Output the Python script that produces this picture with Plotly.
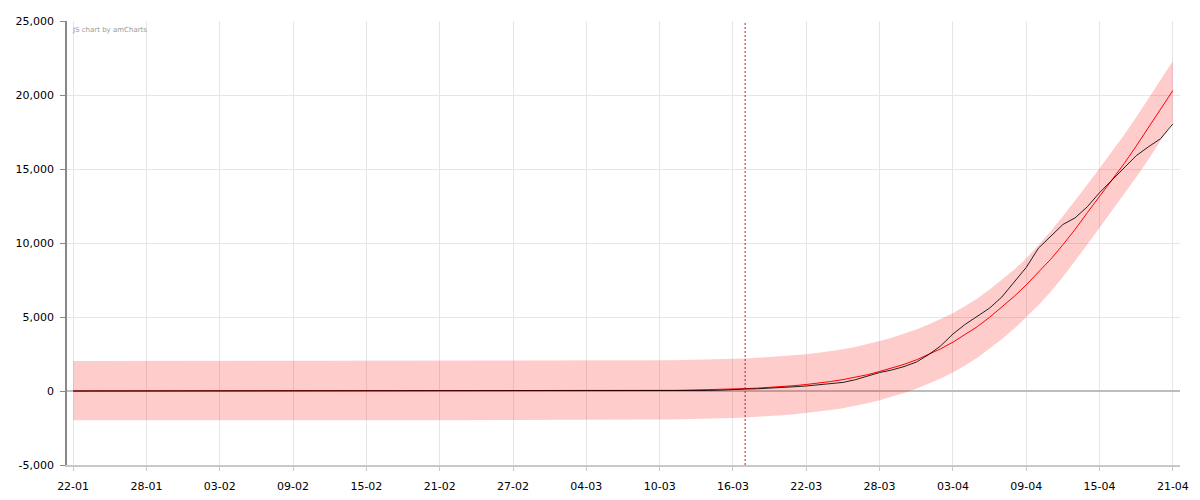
import pandas as pd
import plotly.graph_objects as go

# daily dates, 22-01 to 21-04
dates = pd.date_range("2020-01-22", "2020-04-21", freq="D")

# observed cumulative count (black line)
actual = [0, 0, 0, 0, 0, 0, 0, 0, 0, 0,                       # 22-01 .. 31-01
          0, 0, 0, 0, 0, 0, 0, 0, 0, 0, 0, 0, 0, 0, 0,         # 01-02 .. 15-02
          0, 0, 0, 0, 0, 0, 0, 0, 0, 0, 0, 0, 0, 0,            # 16-02 .. 29-02
          0, 0, 0, 0, 1, 2, 2, 3, 4, 6, 8, 10, 21, 35, 56, 70,
          130, 150, 180, 235, 285, 340, 420, 480, 580, 760, 1000,
          1250, 1420, 1650, 1950,                             # .. 31-03
          2450, 3050, 3850, 4500, 5050, 5600, 6350, 7350, 8350,
          9650, 10450, 11250, 11700, 12450, 13400, 14250, 15050,
          15900, 16500, 17050, 18050]                          # .. 21-04

# model curve (red line)
model = [0, 0, 0, 0, 0, 0, 0, 0, 0, 0,
         0, 0, 0, 0, 0, 0, 0, 0, 0, 0, 1, 1, 1, 1, 1,
         1, 1, 1, 1, 1, 2, 2, 2, 2, 2, 3, 3, 3, 3,
         4, 5, 7, 9, 11, 14, 18, 22, 28, 35, 44, 55, 68, 85, 105, 130,
         160, 195, 240, 295, 360, 440, 530, 640, 770, 920, 1100,
         1320, 1550, 1800, 2100,
         2450, 2850, 3300, 3800, 4350, 4980, 5650, 6380, 7170,
         8000, 8900, 9880, 10920, 12050, 13150, 14250, 15350,
         16550, 17800, 19050, 20300]

# confidence band around the model
band_dates = ["2020-01-22", "2020-02-01", "2020-02-11", "2020-02-21",
              "2020-03-01", "2020-03-06"] + \
             [d.strftime("%Y-%m-%d") for d in pd.date_range("2020-03-10", "2020-04-21")]
band_upper = [2030, 2030, 2030, 2035, 2040, 2050,
              2070, 2080, 2095, 2110, 2130, 2150, 2175, 2200, 2240, 2290, 2340,
              2410, 2490, 2580, 2690, 2820, 2970, 3150, 3370, 3600, 3850, 4150,
              4500, 4850, 5250, 5750, 6250, 6850, 7500, 8200, 8950, 9850, 10800,
              11800, 12850, 13950, 15050, 16150, 17300, 18500, 19750, 21000, 22300]
band_lower = [-1980, -1980, -1975, -1970, -1960, -1950,
              -1930, -1920, -1905, -1890, -1870, -1850, -1820, -1790, -1750, -1700, -1640,
              -1570, -1490, -1400, -1290, -1160, -1010, -830, -620, -390, -130, 160,
              480, 840, 1250, 1720, 2250, 2850, 3500, 4200, 5000, 5800, 6700,
              7700, 8800, 9900, 11050, 12200, 13300, 14450, 15650, 16900, 18200]

marker_date = "2020-03-17"

y_ticks = [-5000, 0, 5000, 10000, 15000, 20000, 25000]
y_tick_labels = ["-5,000", "0", "5,000", "10,000", "15,000", "20,000", "25,000"]

font = "DejaVu Sans, Verdana, sans-serif"

fig = go.Figure()

fig.add_trace(go.Scatter(
    x=band_dates + band_dates[::-1],
    y=band_upper + band_lower[::-1],
    fill="toself", fillcolor="rgba(255,0,0,0.2)",
    line=dict(width=0), mode="lines", hoverinfo="skip", showlegend=False))

fig.add_trace(go.Scatter(
    x=dates, y=model, mode="lines",
    line=dict(color="#ff0000", width=1), showlegend=False))

fig.add_trace(go.Scatter(
    x=dates, y=actual, mode="lines",
    line=dict(color="#000000", width=1), opacity=0.85, showlegend=False))

fig.add_shape(type="line", xref="x", yref="paper",
              x0=marker_date, x1=marker_date, y0=0, y1=1,
              line=dict(color="rgba(204,0,0,0.6)", width=1.5, dash="2px,2px"))

fig.add_annotation(text="JS chart by amCharts", xref="paper", yref="paper",
                   x=0, y=1, xanchor="left", yanchor="top", xshift=3, yshift=-3,
                   showarrow=False, font=dict(family=font, size=7, color="#999999"))

fig.update_xaxes(
    type="date", automargin=False,
    range=["2020-01-21 12:00", "2020-04-21 14:00"],
    tick0="2020-01-22", dtick=6 * 86400000, tickformat="%d-%m",
    showgrid=True, gridcolor="#e6e6e6", gridwidth=1,
    showline=True, linecolor="#c8c8c8", linewidth=1.5,
    ticks="outside", ticklen=4, tickcolor="#c8c8c8",
    ticklabelstandoff=6,
    tickfont=dict(family=font, size=11, color="#000000"),
    zeroline=False)

fig.update_yaxes(
    automargin=False,
    range=[-5000, 25000],
    tickvals=y_ticks, ticktext=y_tick_labels,
    showgrid=True, gridcolor="#e6e6e6", gridwidth=1,
    zeroline=True, zerolinecolor="#bdbdbd", zerolinewidth=2,
    showline=True, linecolor="#888888", linewidth=1.5,
    ticks="outside", ticklen=5, tickcolor="#888888",
    ticklabelstandoff=4,
    tickfont=dict(family=font, size=11, color="#000000"))

# the page body adds an 8px margin, so the figure is a bit smaller than the window
fig.update_layout(
    width=1184, height=484,
    margin=dict(l=59, r=12, t=13, b=27),
    paper_bgcolor="white", plot_bgcolor="white",
    hovermode=False, showlegend=False)

fig.write_html("out.html")
